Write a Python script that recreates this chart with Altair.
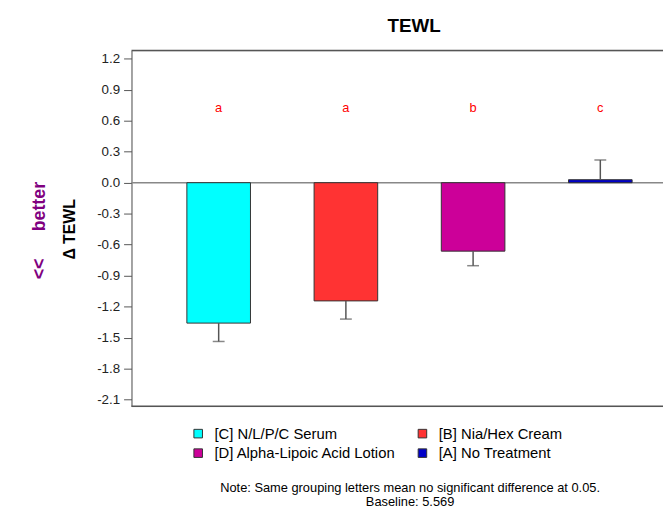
import altair as alt
import pandas as pd

# ---- data ----
groups = ["[C] N/L/P/C Serum", "[B] Nia/Hex Cream",
          "[D] Alpha-Lipoic Acid Lotion", "[A] No Treatment"]
means = [-1.36, -1.145, -0.663, 0.029]
err_ends = [-1.538, -1.321, -0.804, 0.22]
letters = ["a", "a", "b", "c"]
letter_y = [0.72, 0.72, 0.72, 0.72]
colors = ["#00FFFF", "#FF3333", "#CC0099", "#0000C8"]
# legend fills column by column: C, D in first column, B, A in second
legend_order = [groups[0], groups[2], groups[1], groups[3]]
legend_colors = [colors[0], colors[2], colors[1], colors[3]]
tick_values = [-2.1, -1.8, -1.5, -1.2, -0.9, -0.6, -0.3, 0.0, 0.3, 0.6, 0.9, 1.2]
note_lines = ["Note: Same grouping letters mean no significant difference at 0.05.",
              "Baseline: 5.569"]

FONT = "Liberation Sans"
W, H = 538, 360

df = pd.DataFrame({"group": groups, "mean": means, "err": err_ends,
                   "letter": letters, "ly": letter_y})
one = pd.DataFrame({"k": [0]})

xenc = alt.X("group:N", sort=groups, axis=None,
             scale=alt.Scale(paddingInner=0.5, paddingOuter=0.339, align=0.642))
yscale = alt.Scale(domain=[-2.165, 1.28], nice=False, zero=False)
yaxis = alt.Axis(values=tick_values, tickCount=len(tick_values), title=None,
                 grid=False,
                 labelExpr="replace(format(datum.value, '.1f'), '\u2212', '-')",
                 labelOverlap=False, labelFlush=False,
                 tickSize=8, tickColor="#555555", domainColor="#555555",
                 labelFont=FONT, labelFontSize=13.5, labelColor="#222222",
                 labelPadding=4)

base = alt.Chart(df).encode(x=xenc)

zero_line = alt.Chart(one).mark_rule(color="#888888", strokeWidth=1.5).encode(
    y=alt.Y(datum=0, scale=yscale, axis=yaxis))

bars = base.mark_bar(stroke="#333333", strokeWidth=1).encode(
    y=alt.Y("mean:Q", scale=yscale, axis=yaxis),
    y2=alt.datum(0),
    color=alt.Color("group:N", sort=legend_order,
                    scale=alt.Scale(domain=legend_order, range=legend_colors),
                    legend=alt.Legend(orient="none", legendX=60, legendY=380,
                                      columns=2, title=None, symbolType="square",
                                      symbolSize=75, symbolStrokeColor="#333333",
                                      symbolStrokeWidth=1, labelFont=FONT,
                                      labelFontSize=15, labelColor="#000000",
                                      labelLimit=400,
                                      labelOffset=9, columnPadding=18,
                                      rowPadding=4, padding=0)),
)

err_rule = base.mark_rule(color="#555555", strokeWidth=1.5).encode(
    y="mean:Q", y2="err:Q")
err_cap = base.mark_tick(color="#555555", thickness=1.5, size=12).encode(
    y="err:Q")

letter_text = base.mark_text(color="#FF0000", fontSize=13, font=FONT,
                             baseline="middle").encode(
    y="ly:Q", text="letter:N")

top_border = alt.Chart(one).mark_rule(color="#555555", strokeWidth=1.5).encode(
    y=alt.value(0))
bottom_border = alt.Chart(one).mark_rule(color="#555555", strokeWidth=1.5).encode(
    y=alt.value(H))

ytitle = alt.Chart(one).mark_text(text="\u0394 TEWL", angle=270, font=FONT,
                                  fontSize=16, fontWeight="bold", color="#000000",
                                  baseline="middle", align="center").encode(
    x=alt.value(-62), y=alt.value(181))
better = alt.Chart(one).mark_text(text="better", angle=270, font=FONT,
                                  fontSize=18, fontWeight="bold", color="#800080",
                                  baseline="middle", align="center").encode(
    x=alt.value(-93), y=alt.value(158))
arrows = alt.Chart(one).mark_text(text="<<", angle=270, font=FONT,
                                  fontSize=18, fontWeight="bold", color="#800080",
                                  baseline="middle", align="center").encode(
    x=alt.value(-93), y=alt.value(221))

note1 = alt.Chart(one).mark_text(text=note_lines[0], font=FONT, fontSize=13,
                                 color="#000000", baseline="middle",
                                 align="center").encode(
    x=alt.value(282), y=alt.value(443))
note2 = alt.Chart(one).mark_text(text=note_lines[1], font=FONT, fontSize=13,
                                 color="#000000", baseline="middle",
                                 align="center").encode(
    x=alt.value(282), y=alt.value(457))

chart = alt.layer(
    zero_line, bars, err_rule, err_cap, letter_text,
    top_border, bottom_border, ytitle, better, arrows, note1, note2,
).properties(
    width=W, height=H,
    title=alt.Title("TEWL", font=FONT, fontSize=19, fontWeight="bold",
                    color="#000000", dx=17, offset=14),
    autosize=alt.AutoSizeParams(type="none"),
    padding={"left": 125, "top": 40, "right": 0, "bottom": 103},
).configure_view(stroke=None).configure_axis(labelOverlap=False).configure(
    background="white")

chart.save("out.html", embed_options={"renderer": "svg", "actions": False})
